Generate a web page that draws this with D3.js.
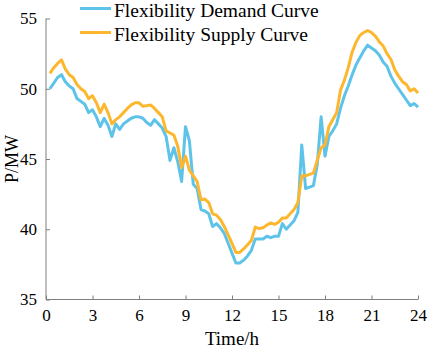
<!DOCTYPE html>
<html>
<head>
  <script src="https://d3js.org/d3.v7.min.js"></script>
  <style>
    body { margin: 0; background: #fff; }
    svg text { font-family: "Liberation Serif", "Times New Roman", serif !important; fill: #000; }
    .axis path, .axis line { stroke: #7f7f7f; stroke-width: 1; }
    .axis text { font-size: 17px; }
    .series { fill: none; stroke-width: 3; stroke-linejoin: round; }
  </style>
</head>
<body>
  <div id="chart"></div>
  <script>
    // 15-minute points from 0.25 h to 24 h
    const hours = d3.range(1, 97).map(i => i * 0.25);
    const demand = [
      50.0, 50.4, 50.8, 51.0, 50.5, 50.2, 50.0, 49.3, 49.1, 48.9, 48.3, 48.5,
      48.0, 47.3, 47.9, 47.4, 46.6, 47.5, 47.1, 47.5, 47.7, 47.9, 48.0, 48.0,
      47.9, 47.6, 47.4, 47.8, 47.5, 47.2, 46.6, 44.9, 45.8, 44.8, 43.4, 47.3,
      46.3, 43.2, 42.9, 41.4, 41.3, 41.1, 40.2, 40.4, 40.1, 39.7, 39.0, 38.3,
      37.6, 37.6, 37.8, 38.1, 38.5, 39.3, 39.3, 39.3, 39.5, 39.4, 39.5, 39.5,
      40.4, 40.0, 40.3, 40.6, 41.2, 46.0, 42.9, 43.0, 43.1, 44.6, 48.0, 45.2,
      46.6, 47.0, 47.5, 48.6, 49.5, 50.2, 51.0, 51.7, 52.2, 52.7, 53.1, 52.9,
      52.7, 52.4, 51.9, 51.6, 50.9, 50.4, 50.0, 49.6, 49.2, 48.8, 48.95, 48.7
    ];
    const supply = [
      51.1, 51.5, 51.8, 52.05, 51.4, 51.0, 50.8, 50.3, 50.0, 49.8, 49.3, 49.5,
      49.0, 48.3, 48.9, 48.3, 47.5, 47.8, 48.0, 48.3, 48.6, 48.85, 49.0, 49.0,
      48.75, 48.8, 48.85, 48.6, 48.3, 48.0, 47.0, 46.85, 46.7, 45.9, 44.4, 45.2,
      44.2, 43.8, 43.4, 42.1, 42.15, 41.9, 41.1, 41.0, 40.7, 40.2, 39.6, 39.0,
      38.35, 38.35, 38.6, 38.9, 39.2, 40.15, 40.05, 40.1, 40.3, 40.45, 40.35, 40.5,
      40.8, 40.8, 41.1, 41.4, 41.9, 43.8, 43.8, 43.9, 44.0, 44.9, 45.8, 46.0,
      47.3, 47.8, 48.3, 49.9, 50.6, 51.5, 52.6, 53.3, 53.8, 54.0, 54.15, 54.0,
      53.75, 53.35, 53.05, 52.5, 52.1, 51.35, 50.9, 50.5, 50.3, 49.85, 50.0, 49.7
    ];
    const xTicks = [0, 3, 6, 9, 12, 15, 18, 21, 24];
    const yTicks = [35, 40, 45, 50, 55];
    const seriesNames = ["Flexibility Demand Curve", "Flexibility Supply Curve"];
    const colors = ["#5ec3e8", "#fcb72e"];

    const W = 429, H = 349;
    const margin = {top: 18.5, right: 11, bottom: 49.5, left: 46};
    const width = W - margin.left - margin.right;
    const height = H - margin.top - margin.bottom;

    const svg = d3.select("#chart").append("svg")
      .attr("width", W).attr("height", H)
      .attr("font-family", "Liberation Serif");
    const g = svg.append("g")
      .attr("transform", `translate(${margin.left},${margin.top})`);

    const x = d3.scaleLinear().domain([0, 24]).range([0, width]);
    const y = d3.scaleLinear().domain([35, 55]).range([height, 0]);

    // axes, ticks pointing inward
    g.append("g")
      .attr("class", "axis")
      .attr("transform", `translate(0,${height})`)
      .call(d3.axisBottom(x).tickValues(xTicks).tickSizeInner(-4).tickSizeOuter(0).tickPadding(9))
      .call(a => a.select(".domain").attr("d", `M0,0H${width}`));

    g.append("g")
      .attr("class", "axis")
      .call(d3.axisLeft(y).tickValues(yTicks).tickSizeInner(-4).tickSizeOuter(0).tickPadding(9))
      .call(a => a.select(".domain").attr("d", `M0,0V${height}`));

    const line = d3.line()
      .x((d, i) => x(hours[i]))
      .y(d => y(d));

    [demand, supply].forEach((s, k) => {
      g.append("path")
        .attr("class", "series")
        .attr("stroke", colors[k])
        .attr("d", line(s));
    });

    // axis titles
    g.append("text")
      .attr("x", width / 2)
      .attr("y", height + 45)
      .attr("text-anchor", "middle")
      .style("font-size", "19px")
      .text("Time/h");

    g.append("text")
      .attr("transform", `translate(-28,${height / 2}) rotate(-90)`)
      .attr("text-anchor", "middle")
      .style("font-size", "18px")
      .text("P/MW");

    // legend
    const legend = svg.append("g").attr("transform", "translate(80,8.5)");
    seriesNames.forEach((name, k) => {
      const row = legend.append("g").attr("transform", `translate(0,${k * 24})`);
      row.append("line")
        .attr("x1", 0).attr("x2", 31)
        .attr("stroke", colors[k]).attr("stroke-width", 3);
      row.append("text")
        .attr("x", 34).attr("y", 8.5)
        .style("font-size", "19.5px")
        .text(name);
    });
  </script>
</body>
</html>
